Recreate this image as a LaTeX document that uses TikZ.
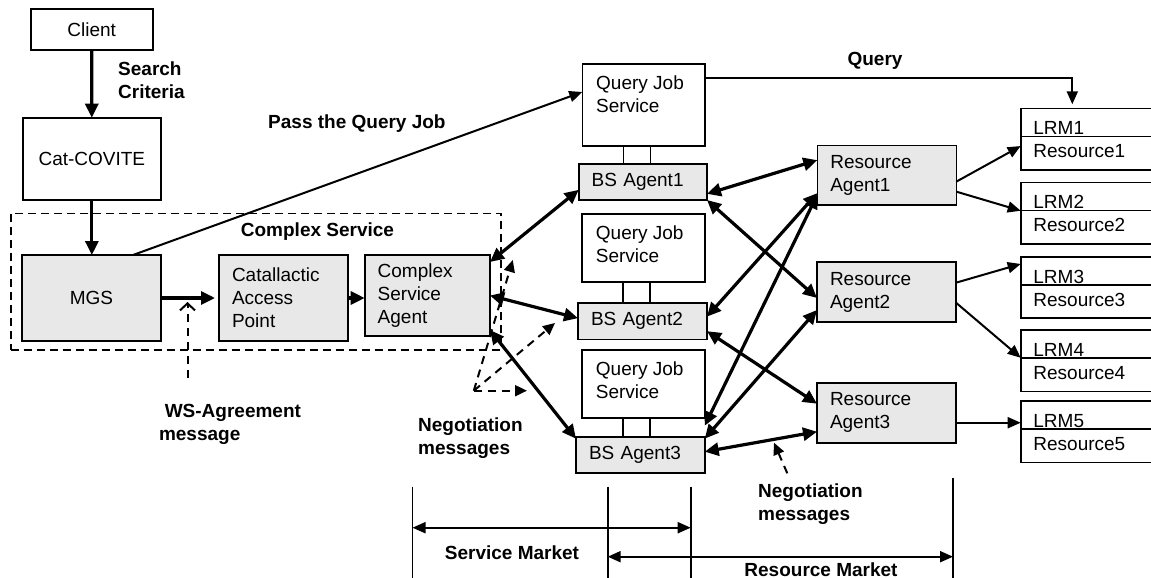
\documentclass[tikz,border=0pt]{standalone}
\usepackage{fontspec}
\setmainfont{Liberation Sans}
\usetikzlibrary{arrows.meta,positioning}
\definecolor{boxgrey}{RGB}{232,232,232}

\begin{document}
\begin{tikzpicture}[x=1pt, y=-1pt, font=\fontsize{19}{23}\selectfont,
    box/.style = {draw, line width=1.6pt, anchor=north west, inner sep=0pt, outer sep=0pt},
    agent/.style = {box, fill=boxgrey},
    lefttext/.style = {align=left, inner xsep=13pt, text width=#1},
    lbl/.style = {font=\fontsize{19}{23}\selectfont\bfseries, align=left, inner sep=0pt},
    big/.style = {line width=3.2pt, {Triangle[length=14pt,width=13pt]}-{Triangle[length=14pt,width=13pt]}},
    one/.style = {line width=3.2pt, -{Triangle[length=14pt,width=13pt]}},
    link/.style = {line width=2pt, -{Triangle[length=13pt,width=11pt]}},
    neg/.style = {line width=2pt, dash pattern=on 8pt off 6pt, -{Triangle[length=12pt,width=11pt]}},
    mkt/.style = {line width=2pt, {Triangle[length=13pt,width=11pt]}-{Triangle[length=13pt,width=11pt]}}]
    \useasboundingbox (0,0) rectangle (1151,578);
    \clip (0,0) rectangle (1151,578);

    % complex service frame
    \node[box, dash pattern=on 8pt off 5pt, minimum width=490.3pt, minimum height=136.7pt] (csframe) at (10.7,213.3) {};

    \node[box, minimum width=122pt, minimum height=40.7pt] (client) at (30.7,9.3) {Client};
    \node[box, minimum width=138.3pt, minimum height=82.3pt] (cat) at (22.7,117.7) {Cat-COVITE};
    \node[agent, minimum width=139pt, minimum height=86pt] (mgs) at (22,255) {MGS};
    \node[agent, lefttext=103pt, minimum height=86pt] (cap) at (219,255) {Catallactic\\Access\\Point};
    \node[agent, lefttext=99.3pt, minimum height=81pt] (csa) at (364.7,255) {Complex\\Service\\Agent};

    % query job services and their BS agents
    \node[box, minimum width=122.4pt, minimum height=82pt] (q1) at (582.3,64) {};
    \node[box, minimum width=123pt, minimum height=68.3pt] (q2) at (582,213.7) {};
    \node[box, minimum width=123pt, minimum height=68pt] (q3) at (582,350) {};
    \foreach \i in {1,2,3}
        \node[anchor=north west, align=left, inner sep=0pt] (q\i txt) at ([xshift=13.7pt,yshift=-11.5pt]q\i.north west) {Query Job\\Service};
    \node[agent, lefttext=102.3pt, minimum height=36.3pt] (bs1) at (578.7,163.7) {BS Agent1};
    \node[agent, lefttext=103pt, minimum height=36.3pt] (bs2) at (578,303) {BS Agent2};
    \node[agent, lefttext=102.7pt, minimum height=36pt] (bs3) at (576,436.7) {BS Agent3};
    \foreach \i/\j in {q1/bs1, q2/bs2, q3/bs3} {
        \draw[line width=1.6pt] ([xshift=41pt]\i.south west) -- ([xshift=41pt]\i.south west |- \j.north);
        \draw[line width=1.6pt] ([xshift=68pt]\i.south west) -- ([xshift=68pt]\i.south west |- \j.north);
    }

    % resource agents
    \node[agent, lefttext=113pt, minimum height=59.7pt] (ra1) at (817.3,145.3) {Resource\\Agent1};
    \node[agent, lefttext=113pt, minimum height=60pt] (ra2) at (817,262) {Resource\\Agent2};
    \node[agent, lefttext=113pt, minimum height=60pt] (ra3) at (817,382.7) {Resource\\Agent3};

    % local resource managers
    \foreach \i/\yy in {1/108.3, 2/182.3, 3/256.7, 4/330, 5/401} {
        \node[box, minimum width=150pt, minimum height=61.5pt] (lrm\i) at (1020.7,\yy) {};
        \draw[line width=1.6pt] ([yshift=-28pt]lrm\i.north west) -- ([yshift=-28pt]lrm\i.north east);
        \node[anchor=base west, inner sep=0pt] (lrmname\i) at ([xshift=12.5pt,yshift=-26.3pt]lrm\i.north west) {LRM\i};
        \node[anchor=base west, inner sep=0pt] (res\i) at ([xshift=12.5pt,yshift=-49.3pt]lrm\i.north west) {Resource\i};
    }

    % labels
    \node[lbl, anchor=west] (search) at (118,80) {Search\\Criteria};
    \node[lbl, anchor=west] (passq) at (268,124) {Pass the Query Job};
    \node[lbl, anchor=west] (cslbl) at (240.7,232) {Complex Service};
    \node[lbl] (querylbl) at (875,60.7) {Query};
    \node[lbl, anchor=west] (wsmsg) at (158.8,424.5) {\hspace*{5.8pt}WS-Agreement\\message};
    \node[lbl, anchor=west] (neglbl1) at (418,438) {Negotiation\\messages};
    \node[lbl, anchor=west] (neglbl2) at (758,504) {Negotiation\\messages};
    \node[lbl] (smlbl) at (512,553) {Service Market};
    \node[lbl] (rmlbl) at (821,569.5) {Resource Market};

    % client side
    \draw[one] (client) -- (cat);
    \draw[one] (cat) -- (cat.south |- mgs.north);
    \draw[one, shorten >=4pt] (mgs.east) -- (cap.west);
    \draw[one] (cap.east) -- (cap.east -| csa.west);
    \draw[link] ([xshift=111pt]mgs.north west) -- ([yshift=13pt]q1.west);
    \draw[link, shorten >=4pt] ([yshift=-14pt]q1.north east) -| ([xshift=51.6pt]lrm1.north west);

    % complex service agent to BS agents
    \draw[big] ([yshift=-7pt]csa.north east) -- ([yshift=-8pt]bs1.west);
    \draw[big] (csa.east) -- ([yshift=3pt]bs2.west);
    \draw[big] ([yshift=6pt]csa.south east) -- ([yshift=-2pt]bs3.north west);

    % BS agents to resource agents
    \draw[big] ([yshift=-12pt]bs1.east) -- ([yshift=15pt]ra1.west);
    \draw[big] (bs1.south east) -- ([yshift=-6pt]ra2.west);
    \draw[big] ([yshift=-18pt]ra1.west) -- ([yshift=4.5pt]bs2.east);
    \draw[big] ([yshift=-19.5pt]ra1.west) -- ([yshift=11pt]bs3.north east);
    \draw[big] ([yshift=-10pt]bs2.east) -- ([yshift=9pt]ra3.west);
    \draw[big] ([yshift=-2pt]bs3.north east) -- ([yshift=-18pt]ra2.west);
    \draw[big] ([yshift=3pt]bs3.east) -- ([yshift=-19pt]ra3.west);

    % resource agents to LRMs
    \draw[link] ([yshift=-6.5pt]ra1.east) -- ([yshift=-7pt]lrm1.west);
    \draw[link] ([yshift=-16.5pt]ra1.east) -- ([yshift=2.3pt]lrm2.west);
    \draw[link] ([yshift=9.3pt]ra2.east) -- ([yshift=23.5pt]lrm3.west);
    \draw[link] ([yshift=-10.7pt]ra2.east) -- ([yshift=3pt]lrm4.west);
    \draw[link] ([yshift=-10pt]ra3.east) -- ([yshift=-10pt]ra3.east -| lrm5.west);

    % negotiation and agreement messages
    \coordinate (wsfrom) at (187.5,378);
    \draw[line width=2pt, dash pattern=on 8pt off 6pt, -{Straight Barb[length=7pt,width=15pt]}, shorten >=4pt] (wsfrom) -- (wsfrom |- mgs.east);
    \coordinate (negfrom) at (473.8,390.7);
    \coordinate (negtoA) at (512.8,260);
    \coordinate (negtoB) at (555,323);
    \coordinate (negtoC) at (527,390.7);
    \draw[neg] (negfrom) -- (negtoA);
    \draw[neg] (negfrom) -- (negtoB);
    \draw[neg] (negfrom) -- (negtoC);
    \coordinate (negfrom2) at (787.3,473.3);
    \coordinate (negto2) at (774,442.7);
    \draw[neg] (negfrom2) -- (negto2);

    % markets
    \foreach \x/\yy in {412.5/486.7, 607.7/486.7, 690.7/486.7, 953/478}
        \draw[line width=1.6pt] (\x,\yy) -- (\x,580);
    \coordinate (smL) at (412.5,527.7);
    \coordinate (smR) at (690.7,527.7);
    \coordinate (rmL) at (607.7,556.7);
    \coordinate (rmR) at (953,556.7);
    \draw[mkt] (smL) -- (smR);
    \draw[mkt] (rmL) -- (rmR);
\end{tikzpicture}
\end{document}
